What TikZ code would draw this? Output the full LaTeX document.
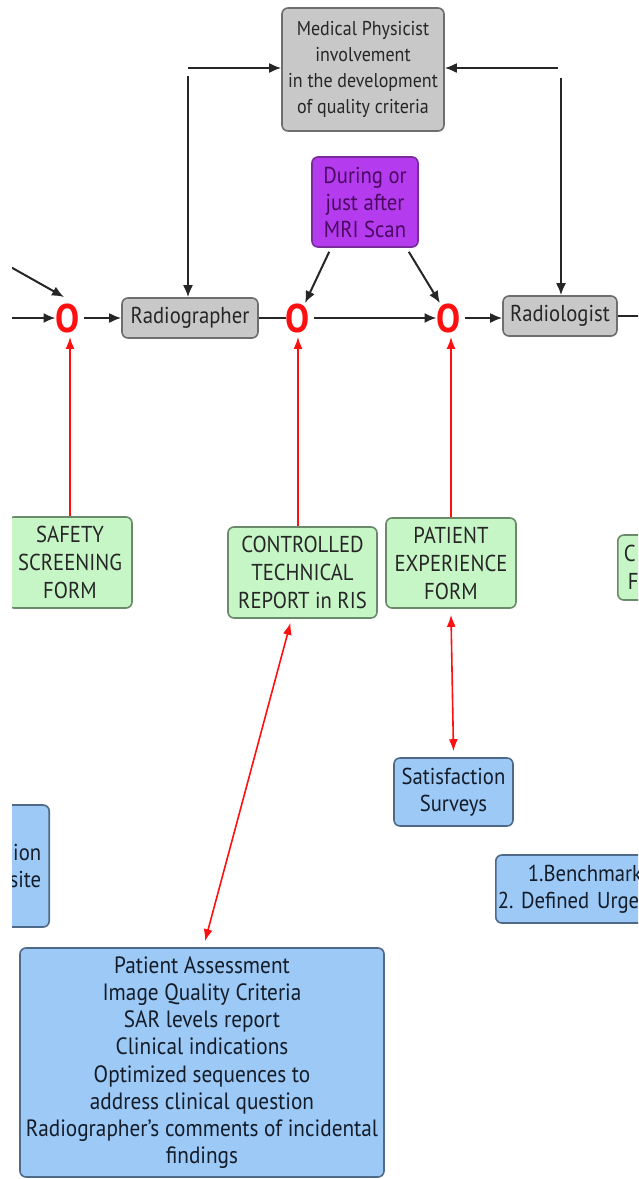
\documentclass[tikz,border=0pt]{standalone}
\usepackage{fontspec}
\setmainfont[FakeStretch=0.9]{PT Sans}
\usetikzlibrary{arrows.meta,positioning}

\definecolor{boxgray}{HTML}{C8C8C8}
\definecolor{edgegray}{HTML}{6E6E6E}
\definecolor{boxgreen}{HTML}{C6F5C6}
\definecolor{edgegreen}{HTML}{6A8A6A}
\definecolor{boxblue}{HTML}{9CC9F5}
\definecolor{edgeblue}{HTML}{4E6A88}
\definecolor{boxpurple}{HTML}{B43CEE}
\definecolor{edgepurple}{HTML}{7A2A9A}
\definecolor{txtpurple}{HTML}{4A0860}
\definecolor{txtdark}{HTML}{262626}
\definecolor{txtblue}{HTML}{141C2A}
\definecolor{gatered}{HTML}{FF1010}

\begin{document}
\begin{tikzpicture}[x=0.5pt,y=-0.5pt,
  box/.style={rounded corners=3pt, line width=0.8pt, align=center,
    font=\fontsize{11.5}{13.5}\selectfont, text=txtdark, inner sep=2pt},
  graybox/.style={box, fill=boxgray, draw=edgegray},
  greenbox/.style={box, fill=boxgreen, draw=edgegreen, font=\fontsize{11.5}{14}\selectfont},
  bluebox/.style={box, fill=boxblue, draw=edgeblue, text=txtblue},
  purplebox/.style={box, fill=boxpurple, draw=edgepurple, text=txtpurple},
  gate/.style={text=gatered, font=\fontsize{20}{20}\selectfont\bfseries, inner sep=0pt},
  arr/.style={-{Latex[length=6pt,width=5pt]}, line width=1pt, black!85},
  plain/.style={line width=1pt, black!85},
  redarr/.style={-{Latex[length=6pt,width=4.5pt]}, line width=0.8pt, gatered},
  dredarr/.style={redarr, {Latex[length=6pt,width=4.5pt]}-{Latex[length=6pt,width=4.5pt]}}]

\useasboundingbox (0,0) rectangle (638,1179);
\clip (12,0) rectangle (638,1179);

% Top boxes
\node[graybox, minimum width=81pt, minimum height=61.5pt, font=\fontsize{10}{13}\selectfont] (phys) at (363,69.5)
  {Medical Physicist\\involvement\\in the development\\of quality criteria};
\node[purplebox, minimum width=53pt, minimum height=45pt] (during) at (365,202)
  {During or\\just after\\MRI Scan};

% Main line
\node[gate] (o1) at (68,318) {O};
\node[graybox, minimum width=68pt, minimum height=20pt] (radiog) at (190,318) {Radiographer};
\node[gate] (o2) at (298,318) {O};
\node[gate] (o3) at (449,318) {O};
\node[graybox, minimum width=57pt, minimum height=20pt] (radiol) at (560,316) {Radiologist};

% Forms
\node[greenbox, minimum width=62pt, minimum height=45.5pt] (safety) at (70,562.5)
  {SAFETY\\SCREENING\\FORM};
\node[greenbox, minimum width=74.5pt, minimum height=45.5pt] (techrep) at (302.5,572.5)
  {CONTROLLED\\TECHNICAL\\REPORT in RIS};
\node[greenbox, minimum width=65pt, minimum height=45pt] (pexp) at (451,563)
  {PATIENT\\EXPERIENCE\\FORM};
\node[greenbox, anchor=west, text width=30pt, minimum height=32.5pt, align=left, inner sep=3pt] (cform) at (617,567.5)
  {C\\\hspace{2pt}F};

% Blue boxes
\node[bluebox, anchor=east, text width=40pt, minimum height=61pt, align=right, inner sep=4pt] (leftblue) at (50,866)
  {ion\\site};
\node[bluebox, minimum width=59.5pt, minimum height=34pt] (satis) at (453.5,792)
  {Satisfaction\\Surveys};
\node[bluebox, anchor=west, text width=90pt, minimum height=34pt, align=left, inner sep=1pt] (bench) at (495,889)
  {\hspace{15pt}1.Benchmark\\2.\ Defined Urge};
\node[bluebox, minimum width=182pt, minimum height=114.5pt, font=\fontsize{11.8}{13.6}\selectfont] (assess) at (202,1062.5)
  {Patient Assessment\\Image Quality Criteria\\SAR levels report\\Clinical indications\\Optimized sequences to\\address clinical question\\Radiographer's comments of incidental\\findings};

% Free ends
\coordinate (inL) at (0,318);
\coordinate (inD) at (0,261);
\coordinate (outR) at (650,316);
\coordinate (topL) at (188,68);
\coordinate (topLd) at (188,76);
\coordinate (topR) at (558,68);
\coordinate (topRd) at (561,78);

% Black connectors
\draw[arr] (inL) -- (o1);
\draw[arr] (inD) -- ([xshift=-2pt,yshift=3pt]o1.north);
\draw[arr, shorten <=2pt] (o1) -- (radiog);
\draw[plain] (radiog) -- (o2);
\draw[arr, shorten <=2pt] (o2) -- (o3);
\draw[arr, shorten <=2pt] (o3) -- (radiol.west |- o3);
\draw[plain] (radiol) -- (outR);
\draw[arr] (topL) -- (phys.west |- topL);
\draw[arr] (topLd) -- (radiog.north -| topLd);
\draw[arr] (topR) -- (phys.east |- topR);
\draw[arr] (topRd) -- (radiol.north -| topRd);
\draw[arr] ([xshift=9pt,yshift=-2pt]during.south west) -- (o2);
\draw[arr] ([xshift=-5pt,yshift=-2pt]during.south east) -- (o3);

% Red connectors
\draw[redarr, shorten >=2pt] (safety.north) -- (safety.north |- o1.south);
\draw[redarr, shorten >=2pt] (techrep.north -| o2) -- (o2.south);
\draw[redarr, shorten >=2pt] (pexp.north) -- (pexp.north |- o3.south);
\draw[dredarr] ([xshift=-6pt,yshift=-2pt]techrep.south) -- ([xshift=1.5pt,yshift=3pt]assess.north);
\draw[dredarr] ([yshift=-3pt]pexp.south) -- ([yshift=3pt]satis.north);
\end{tikzpicture}
\end{document}
